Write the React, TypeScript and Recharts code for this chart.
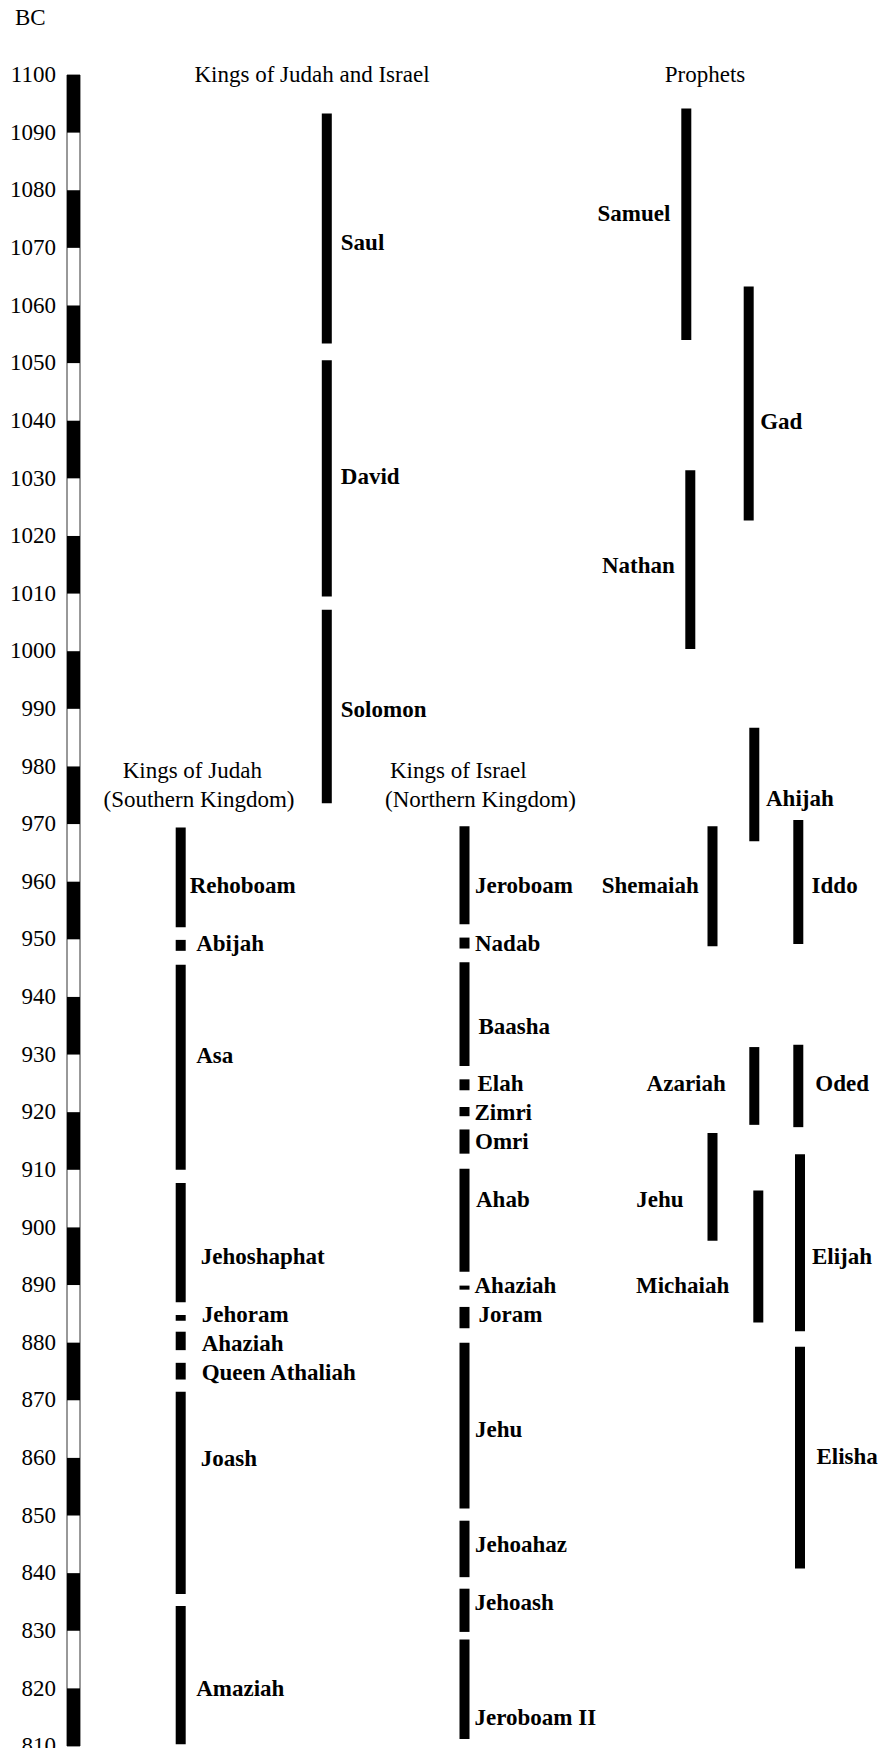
import React from 'react';
import { ComposedChart, XAxis, YAxis, ReferenceArea } from 'recharts';

// ---------- data (years BC) ----------
const yearTicks = [1100, 1090, 1080, 1070, 1060, 1050, 1040, 1030, 1020, 1010, 1000, 990, 980, 970, 960, 950, 940, 930, 920, 910, 900, 890, 880, 870, 860, 850, 840, 830, 820, 810];

const unitedKings = ['Saul', 'David', 'Solomon'];
const unitedStart = [1093.3, 1050.5, 1007.2];
const unitedEnd = [1053.4, 1009.5, 973.6];
const unitedLabelYear = [1071, 1030.5, 990];

const judahKings = ['Rehoboam', 'Abijah', 'Asa', 'Jehoshaphat', 'Jehoram', 'Ahaziah', 'Queen Athaliah', 'Joash', 'Amaziah'];
const judahStart = [969.4, 949.9, 945.6, 907.7, 884.8, 881.9, 876.5, 871.5, 834.3];
const judahEnd = [952.1, 948.0, 910.0, 887.0, 883.8, 878.7, 873.6, 836.4, 810.3];
const judahLabelYear = [959.5, 949.4, 930, 895, 885, 880, 875, 860, 820];

const israelKings = ['Jeroboam', 'Nadab', 'Baasha', 'Elah', 'Zimri', 'Omri', 'Ahab', 'Ahaziah', 'Joram', 'Jehu', 'Jehoahaz', 'Jehoash', 'Jeroboam II'];
const israelStart = [969.6, 950.3, 946.0, 925.7, 920.9, 917.0, 910.2, 889.9, 886.2, 880.0, 849.1, 837.3, 828.5];
const israelEnd = [952.6, 948.4, 928.0, 923.8, 919.3, 912.8, 892.3, 889.2, 882.5, 851.2, 839.3, 829.8, 811.2];
const israelLabelYear = [959.5, 949.4, 935, 925, 920, 915, 905, 890, 885, 865, 845, 835, 815];

const prophets = ['Samuel', 'Gad', 'Nathan', 'Ahijah', 'Shemaiah', 'Iddo', 'Azariah', 'Oded', 'Jehu', 'Michaiah', 'Elijah', 'Elisha'];
const prophetStart = [1094.2, 1063.3, 1031.4, 986.7, 969.6, 970.7, 931.3, 931.7, 916.4, 906.4, 912.7, 879.3];
const prophetEnd = [1054.0, 1022.7, 1000.4, 967.0, 948.8, 949.2, 917.8, 917.4, 897.7, 883.5, 882.0, 840.8];
const prophetLabelYear = [1076, 1040, 1015, 974.5, 959.5, 959.5, 925, 925, 905, 890, 895, 860.3];

// ---------- layout (horizontal lanes, label placement) ----------
const AXIS_LEFT = 67;
const AXIS_RIGHT = 80;
const CHART_W = 883;
const CHART_H = 1748;
const HALF = 5;
const LANE_UNITED = 326.8;
const LANE_JUDAH = 180.7;
const LANE_ISRAEL = 464.5;
const unitedGap = [9, 9, 9];
const judahGap = [4, 10.5, 10.5, 15, 16, 16, 16, 15, 10.5];
const israelGap = [5.5, 5.5, 9, 8, 5, 5.5, 6.5, 5, 9, 5.5, 5.5, 5, 5];
const prophetLaneX = [686.3, 748.7, 690.3, 754.3, 712.5, 798.3, 754.3, 798.3, 712.5, 758.3, 800, 800];
const prophetSide = ['left', 'right', 'left', 'right', 'left', 'right', 'left', 'right', 'left', 'left', 'right', 'right'];
const prophetGap = [11, 6.5, 10.5, 6.7, 8.7, 8.3, 23.5, 12, 24, 24, 7, 11.5];

const FONT = "'Liberation Serif', 'Times New Roman', Times, serif";
const FS = 23;

function makeLabel(name: string, start: number, end: number, labelYear: number, side: string, gap: number) {
  return (props: any) => {
    const vb = props && props.viewBox;
    if (!vb) return null;
    const t = (start - labelYear) / (start - end);
    const y = vb.y + t * vb.height;
    const x = side === 'right' ? vb.x + vb.width + gap : vb.x - gap;
    return (
      <text
        x={x}
        y={y}
        dy="0.35em"
        textAnchor={side === 'right' ? 'start' : 'end'}
        fontFamily={FONT}
        fontSize={FS}
        fontWeight="bold"
        fill="#000"
      >
        {name}
      </text>
    );
  };
}

function bars(
  keyPrefix: string,
  names: string[],
  starts: number[],
  ends: number[],
  labelYears: number[],
  laneX: (i: number) => number,
  side: (i: number) => string,
  gaps: number[]
) {
  return names.map((n, i) => (
    <ReferenceArea
      key={`${keyPrefix}-${i}`}
      x1={laneX(i) - HALF}
      x2={laneX(i) + HALF}
      y1={starts[i]}
      y2={ends[i]}
      fill="#000"
      fillOpacity={1}
      stroke="none"
      ifOverflow="visible"
      label={makeLabel(n, starts[i], ends[i], labelYears[i], side(i), gaps[i])}
    />
  ));
}

const textStyle = { fontFamily: FONT, fontSize: FS, fill: '#000' } as const;

export default function App() {
  const stripes = yearTicks.slice(0, -1).map((top, i) => ({ top, bottom: yearTicks[i + 1], dark: i % 2 === 0 }));
  return (
    <div style={{ position: 'absolute', left: 0, top: 0, width: CHART_W, height: CHART_H, background: '#fff' }}>
      <ComposedChart width={CHART_W} height={CHART_H} margin={{ top: 75, right: 0, bottom: 2, left: 0 }}>
        <XAxis type="number" dataKey="x" domain={[AXIS_LEFT, CHART_W]} allowDataOverflow hide />
        <YAxis
          type="number"
          domain={[810, 1100]}
          allowDataOverflow
          ticks={yearTicks}
          interval={0}
          width={AXIS_LEFT}
          axisLine={false}
          tickLine={false}
          tickSize={0}
          tickMargin={11}
          tick={{ fill: '#000', fontSize: FS, fontFamily: FONT, dy: -1 }}
        />
        <ReferenceArea
          x1={AXIS_LEFT}
          x2={AXIS_RIGHT}
          y1={1100}
          y2={810}
          fill="#fff"
          fillOpacity={1}
          stroke="#333"
          strokeWidth={1}
          ifOverflow="visible"
        />
        {stripes
          .filter((s) => s.dark)
          .map((s) => (
            <ReferenceArea
              key={`stripe-${s.top}`}
              x1={AXIS_LEFT}
              x2={AXIS_RIGHT}
              y1={s.top}
              y2={s.bottom}
              fill="#000"
              fillOpacity={1}
              stroke="none"
              ifOverflow="visible"
            />
          ))}
        {bars('u', unitedKings, unitedStart, unitedEnd, unitedLabelYear, () => LANE_UNITED, () => 'right', unitedGap)}
        {bars('j', judahKings, judahStart, judahEnd, judahLabelYear, () => LANE_JUDAH, () => 'right', judahGap)}
        {bars('i', israelKings, israelStart, israelEnd, israelLabelYear, () => LANE_ISRAEL, () => 'right', israelGap)}
        {bars('p', prophets, prophetStart, prophetEnd, prophetLabelYear, (i) => prophetLaneX[i], (i) => prophetSide[i], prophetGap)}
        <text x={15} y={25} {...textStyle}>BC</text>
        <text x={312} y={82} textAnchor="middle" {...textStyle}>Kings of Judah and Israel</text>
        <text x={705} y={82} textAnchor="middle" {...textStyle}>Prophets</text>
        <text x={192.3} y={777.5} textAnchor="middle" {...textStyle}>Kings of Judah</text>
        <text x={199} y={806.5} textAnchor="middle" {...textStyle}>(Southern Kingdom)</text>
        <text x={458.3} y={777.5} textAnchor="middle" {...textStyle}>Kings of Israel</text>
        <text x={480.5} y={806.5} textAnchor="middle" {...textStyle}>(Northern Kingdom)</text>
      </ComposedChart>
    </div>
  );
}
